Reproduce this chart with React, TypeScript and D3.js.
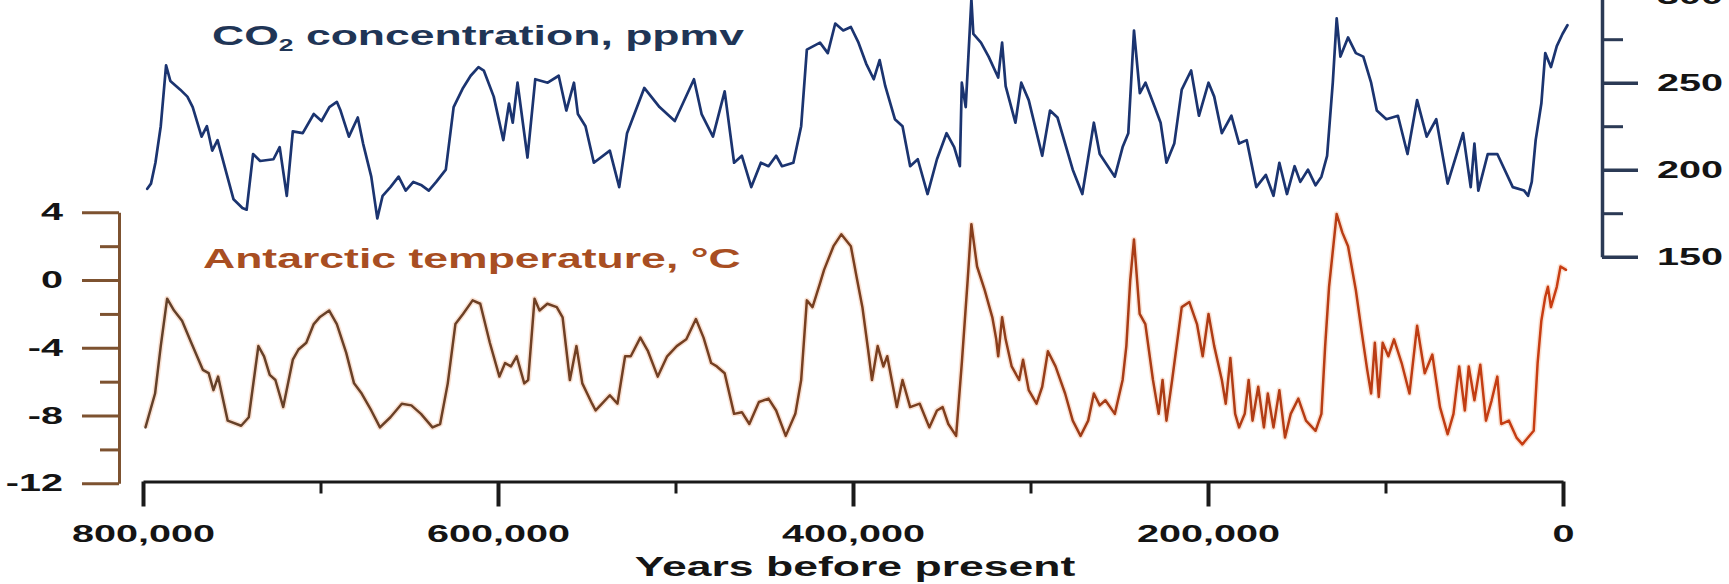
import React, { useEffect, useRef } from "react";
import * as d3 from "d3";

// Ice-core records, ages in thousands of years before present (ka)
const co2Age = [
  797.6, 795.5, 793, 790, 787, 784.6, 779, 775, 772, 767, 764, 761, 758, 753, 749, 744, 741.6, 738, 734, 726.5,
  723, 719, 715.6, 710, 703.8, 699.4, 695, 690.8, 688.7, 684, 679, 676, 671.4, 668, 665, 660.6, 656, 652, 647.7,
  643, 639, 634.8, 629.4, 625, 619.7, 615.4, 611, 608, 602.4, 597, 593.8, 591.7, 589, 583.4, 579, 572, 565.8,
  561.5, 557.2, 555, 550.7, 546, 537, 531.7, 527.3, 517.6, 509, 500.4, 489.6, 485.3, 478.9, 472.3, 467, 462.6,
  457.3, 451.9, 447.6, 443.3, 440, 433.6, 429.2, 426, 418.6, 414.2, 410, 405.5, 401.2, 396.9, 392.6, 388.3, 385,
  381.8, 376.4, 372.1, 367.8, 363.5, 358, 352.7, 347.3, 343, 339.8, 338.7, 336.5, 333.3, 332.2, 327.9, 323.6,
  318.2, 316, 314, 308.5, 305.2, 301, 293.4, 289, 284.8, 276.2, 270.8, 264.3, 261, 252.5, 248.1, 244.9, 241.7,
  238.4, 235.2, 230, 226.7, 223.4, 219, 214.8, 209.5, 205.1, 199.7, 196.5, 192.2, 186.8, 182.5, 178.2, 172.8,
  167.4, 163.1, 159.8, 155.5, 151.2, 148, 143.7, 139.4, 136.1, 132.9, 129.7, 127.5, 125.4, 121.1, 116.7, 112.5,
  108.1, 104.9, 99.5, 93, 87.6, 82.2, 76.8, 71.4, 65, 56.3, 52, 49.9, 47.7, 42.4, 37, 28.3, 21.9, 19.7, 17.6,
  15.4, 12.2, 10, 6.8, 3.5, 0.3, -2.5,
];
const co2Ppmv = [
  189, 192, 204, 225, 260, 251, 246, 242, 236, 219, 225, 211, 217, 198, 183, 178, 177, 209, 205, 206,
  213, 185, 222, 221, 232, 228, 236, 239, 234, 219, 230, 215, 196, 172, 185, 190, 196, 188, 193,
  191, 188, 193, 200, 236, 247, 254, 259, 257, 242, 217, 238, 227, 250, 207, 252, 250, 254,
  234, 250, 232, 225, 204, 211, 190, 221, 247, 236, 228, 252, 232, 219, 245, 204, 208,
  190, 204, 202, 208, 202, 204, 225, 269, 273, 267, 284, 280, 282, 273, 261, 252, 263,
  248, 229, 225, 202, 206, 186, 206, 221, 213, 202, 250, 236, 298, 278, 273, 265,
  253, 273, 248, 227, 250, 240, 208, 234, 230, 200, 186, 227, 209, 196, 213, 221, 280,
  244, 250, 236, 227, 204, 215, 246, 257, 231, 250, 242, 221, 231, 215, 217, 190,
  197, 185, 204, 186, 202, 193, 200, 191, 196, 208, 250, 287, 265, 276, 267, 265,
  250, 234, 229, 231, 209, 240, 219, 229, 192, 221, 190, 215, 188, 209, 209, 190, 188, 185, 193,
  217, 238, 267, 259, 271, 278, 283,
];

const tempAge = [
  798.6, 793.2, 790, 786.4, 782.5, 778, 772.8, 766.3, 763, 760.3, 757.7, 752.3, 744.7, 740.4, 735, 731.8, 728.6,
  725.4, 721, 715.6, 712.4, 708, 703.8, 700.5, 695.1, 690.8, 685.5, 681.1, 676.8, 671.4, 666.5, 660.6, 654.2,
  648.8, 643.4, 636.9, 632.6, 628.3, 624, 619.7, 614.3, 610, 604.6, 599.2, 596, 592.7, 589.5, 585.2, 583, 579.4,
  576.6, 572.2, 566.9, 563.6, 559.5, 555.8, 552.5, 547, 545, 541.4, 537, 532.7, 528.4, 525.2, 519.8, 515.5, 510,
  504.7, 499.3, 493.9, 488.5, 484.2, 479.9, 476.7, 472.3, 467, 462.6, 458.4, 453, 447.6, 443.3, 437.9, 432.5,
  429.2, 426, 422.8, 418.6, 416.3, 411, 406.6, 401.2, 398, 394.7, 391.5, 389.3, 386.1, 382.9, 380.7, 375.3, 372.1,
  367.8, 362.4, 357, 352.7, 349.5, 346.3, 341.9, 338.7, 335.4, 333.3, 330.1, 325.8, 321.5, 319.3, 318.2, 316, 314,
  310.6, 306.4, 304.2, 301, 296.6, 293.4, 290.2, 285.9, 280.5, 276.2, 271.8, 267.5, 264.3, 261, 257.8, 252.5,
  248.1, 246, 243.8, 241.7, 238.5, 235.3, 231, 227.8, 225.6, 223.4, 220.2, 214.8, 210.5, 206.2, 203, 199.7, 196.5,
  192.2, 190, 187.4, 184.7, 182.5, 179.3, 177.1, 174.9, 171.7, 168.5, 166.3, 163.1, 159.8, 156.6, 153.4, 149.1,
  144.8, 139.4, 136.1, 134, 131.8, 127.5, 124.3, 121.1, 116.7, 113.5, 110.3, 108.1, 106, 103.8, 101.6, 98.4, 95.2,
  90.9, 86.5, 82.2, 77.9, 73.6, 69.3, 65, 61.7, 58.5, 55.3, 53.1, 49.9, 46.6, 43.4, 40.2, 37, 34.8, 30.5, 26.2,
  22.9, 19.7, 16.5, 14.3, 12.2, 10, 8.5, 6.8, 3.5, 1.4, -1.7,
];
const tempC = [
  -8.7, -6.7, -3.9, -1.1, -1.8, -2.4, -3.7, -5.3, -5.5, -6.5, -5.7, -8.3, -8.6, -8.1, -3.9, -4.5, -5.6,
  -5.9, -7.5, -4.7, -4.1, -3.7, -2.6, -2.2, -1.8, -2.6, -4.3, -6.1, -6.7, -7.7, -8.7, -8.1, -7.3,
  -7.4, -7.9, -8.7, -8.5, -6.1, -2.6, -2.0, -1.2, -1.4, -3.7, -5.7, -4.9, -5.1, -4.5, -6.1, -5.9, -1.1,
  -1.8, -1.4, -1.6, -2.2, -5.9, -3.9, -6.1, -7.3, -7.7, -7.3, -6.8, -7.3, -4.5, -4.5, -3.4, -4.2, -5.7,
  -4.5, -3.9, -3.5, -2.3, -3.4, -4.9, -5.1, -5.5, -7.9, -7.8, -8.5, -7.2, -7.0, -7.7, -9.2, -7.9,
  -5.9, -1.2, -1.6, -0.2, 0.6, 2.0, 2.7, 2.0, 0.2, -1.6, -4.1, -5.9, -3.9, -5.1, -4.5, -7.5, -5.9,
  -7.5, -7.3, -8.7, -7.7, -7.5, -8.5, -9.2, -4.9, 0.0, 3.3, 0.8, -0.6, -2.2, -3.5, -4.5, -2.2, -3.5,
  -5.1, -5.9, -4.7, -6.5, -7.3, -6.3, -4.2, -5.1, -6.7, -8.3, -9.2, -8.3, -6.7, -7.4, -7.1, -7.9,
  -5.9, -3.9, 0.0, 2.4, -2.0, -2.6, -5.9, -7.9, -5.9, -8.3, -5.9, -1.6, -1.3, -2.6, -4.5, -2.0, -3.9,
  -5.9, -7.3, -4.6, -7.9, -8.7, -7.9, -5.9, -8.3, -6.3, -8.7, -6.7, -8.7, -6.5, -9.3, -7.9, -7.0,
  -8.3, -8.9, -7.9, -3.9, -0.4, 3.9, 2.8, 2.0, -0.6, -3.0, -5.3, -6.7, -3.7, -6.9, -3.7, -4.5, -3.5,
  -4.9, -6.7, -2.7, -5.5, -4.4, -7.5, -9.1, -7.9, -5.1, -7.7, -5.1, -7.1, -5.0, -8.3, -7.1, -5.7, -8.5, -8.3, -9.3,
  -9.7, -9.3, -8.9, -4.9, -2.4, -1.0, -0.4, -1.6, -0.4, 0.8, 0.6,
];

// Axis ticks
const ageTicks = [800, 600, 400, 200, 0];
const ageMinorTicks = [700, 500, 300, 100];
const tempTicks = [4, 0, -4, -8, -12];
const tempMinorTicks = [2, -2, -6, -10];
const co2Ticks = [300, 250, 200, 150];
const co2MinorTicks = [275, 225, 175];

const W = 1729;
const H = 584;
const FONT = "'Liberation Sans', Arial, Helvetica, sans-serif";
const STRETCH = 1.65; // wide, horizontally stretched lettering

const x = d3.scaleLinear().domain([800, 0]).range([143, 1563]);
const yCo2 = d3.scaleLinear().domain([150, 300]).range([256.7, -4.3]);
const yTemp = d3.scaleLinear().domain([-12, 4]).range([483.3, 212.3]);

const co2Line = d3
  .line<number>()
  .x((_, i) => x(co2Age[i]))
  .y((d) => yCo2(d));
const tempLine = d3
  .line<number>()
  .x((_, i) => x(tempAge[i]))
  .y((d) => yTemp(d));

export default function App() {
  const bottomRef = useRef<SVGGElement>(null);
  const leftRef = useRef<SVGGElement>(null);
  const rightRef = useRef<SVGGElement>(null);

  useEffect(() => {
    const styleText = (g: d3.Selection<SVGGElement, unknown, null, undefined>) =>
      g
        .selectAll("text")
        .attr("font-family", FONT)
        .attr("font-weight", "bold")
        .attr("font-size", 24)
        .attr("fill", "#141414");

    // Age axis
    const bottom = d3.select(bottomRef.current!);
    bottom.selectAll("*").remove();
    const bMajor = bottom.append("g");
    bMajor.call(
      d3
        .axisBottom(x)
        .tickValues(ageTicks)
        .tickSize(25)
        .tickSizeOuter(0)
        .tickFormat((d) => d3.format(",")((d as number) * 1000))
    );
    bMajor.select(".domain").attr("stroke", "#1a1a1a").attr("stroke-width", 3);
    bMajor.selectAll(".tick line").attr("stroke", "#1a1a1a").attr("stroke-width", 4);
    styleText(bMajor);
    bMajor.selectAll(".tick text").attr("y", 43).attr("transform", `scale(${STRETCH},1)`);
    const bMinor = bottom.append("g");
    bMinor.call(d3.axisBottom(x).tickValues(ageMinorTicks).tickSize(12).tickSizeOuter(0).tickFormat(() => ""));
    bMinor.select(".domain").remove();
    bMinor.selectAll(".tick line").attr("stroke", "#1a1a1a").attr("stroke-width", 3);

    // Temperature axis
    const left = d3.select(leftRef.current!);
    left.selectAll("*").remove();
    const lMajor = left.append("g");
    lMajor.call(
      d3
        .axisLeft(yTemp)
        .tickValues(tempTicks)
        .tickSize(37)
        .tickSizeOuter(0)
        .tickFormat((d) => String(d))
    );
    lMajor.select(".domain").attr("stroke", "#7d5230").attr("stroke-width", 3);
    lMajor.selectAll(".tick line").attr("stroke", "#7d5230").attr("stroke-width", 3);
    styleText(lMajor);
    lMajor
      .selectAll(".tick text")
      .attr("x", -56 / STRETCH)
      .attr("transform", `scale(${STRETCH},1)`);
    const lMinor = left.append("g");
    lMinor.call(d3.axisLeft(yTemp).tickValues(tempMinorTicks).tickSize(19).tickSizeOuter(0).tickFormat(() => ""));
    lMinor.select(".domain").remove();
    lMinor.selectAll(".tick line").attr("stroke", "#7d5230").attr("stroke-width", 3);

    // CO2 axis
    const right = d3.select(rightRef.current!);
    right.selectAll("*").remove();
    const rMajor = right.append("g");
    rMajor.call(d3.axisRight(yCo2).tickValues(co2Ticks).tickSize(36).tickSizeOuter(0));
    rMajor.select(".domain").attr("stroke", "#2b3a55").attr("stroke-width", 3.5);
    rMajor.selectAll(".tick line").attr("stroke", "#2b3a55").attr("stroke-width", 3.5);
    styleText(rMajor);
    rMajor
      .selectAll(".tick text")
      .attr("x", 55 / STRETCH)
      .attr("transform", `scale(${STRETCH},1)`);
    const rMinor = right.append("g");
    rMinor.call(d3.axisRight(yCo2).tickValues(co2MinorTicks).tickSize(21).tickSizeOuter(0).tickFormat(() => ""));
    rMinor.select(".domain").remove();
    rMinor.selectAll(".tick line").attr("stroke", "#2b3a55").attr("stroke-width", 3);
  }, []);

  const pct = (age: number) => `${((x(age) - x(800)) / (x(0) - x(800))) * 100}%`;

  return (
    <svg
      width={W}
      height={H}
      viewBox={`0 0 ${W} ${H}`}
      style={{ position: "absolute", left: 0, top: 0, background: "#ffffff", overflow: "hidden" }}
    >
      <defs>
        <linearGradient id="tempStroke" gradientUnits="userSpaceOnUse" x1={x(800)} y1={0} x2={x(0)} y2={0}>
          <stop offset={pct(800)} stopColor="#63412a" />
          <stop offset={pct(360)} stopColor="#7b3f1f" />
          <stop offset={pct(250)} stopColor="#a83c16" />
          <stop offset={pct(0)} stopColor="#c93d12" />
        </linearGradient>
      </defs>

      <g ref={bottomRef} transform="translate(0,481.5)" />
      <g ref={leftRef} transform="translate(119,0)" />
      <g ref={rightRef} transform="translate(1602,0)" />

      {/* CO2 record */}
      <path
        d={co2Line(co2Ppmv) ?? ""}
        fill="none"
        stroke="#1b3470"
        strokeWidth={2.7}
        strokeLinejoin="round"
        strokeLinecap="round"
      />

      {/* Temperature record */}
      <path
        d={tempLine(tempC) ?? ""}
        fill="none"
        stroke="#f0a070"
        strokeOpacity={0.3}
        strokeWidth={5.5}
        strokeLinejoin="round"
      />
      <path
        d={tempLine(tempC) ?? ""}
        fill="none"
        stroke="url(#tempStroke)"
        strokeWidth={2.5}
        strokeLinejoin="round"
        strokeLinecap="round"
      />

      {/* Series titles */}
      <text
        transform={`translate(212,45) scale(${STRETCH},1)`}
        fontFamily={FONT}
        fontWeight="bold"
        fontSize={27}
        fill="#1f3556"
      >
        CO
        <tspan fontSize={16} dy={6}>
          2
        </tspan>
        <tspan dy={-6}> concentration, ppmv</tspan>
      </text>
      <text
        transform={`translate(203,268) scale(${STRETCH},1)`}
        fontFamily={FONT}
        fontWeight="bold"
        fontSize={27}
        fill="#a84e22"
      >
        Antarctic temperature, °C
      </text>

      {/* Age axis title */}
      <text
        transform={`translate(855,576) scale(${STRETCH},1)`}
        textAnchor="middle"
        fontFamily={FONT}
        fontWeight="bold"
        fontSize={27}
        fill="#151515"
      >
        Years before present
      </text>
    </svg>
  );
}
